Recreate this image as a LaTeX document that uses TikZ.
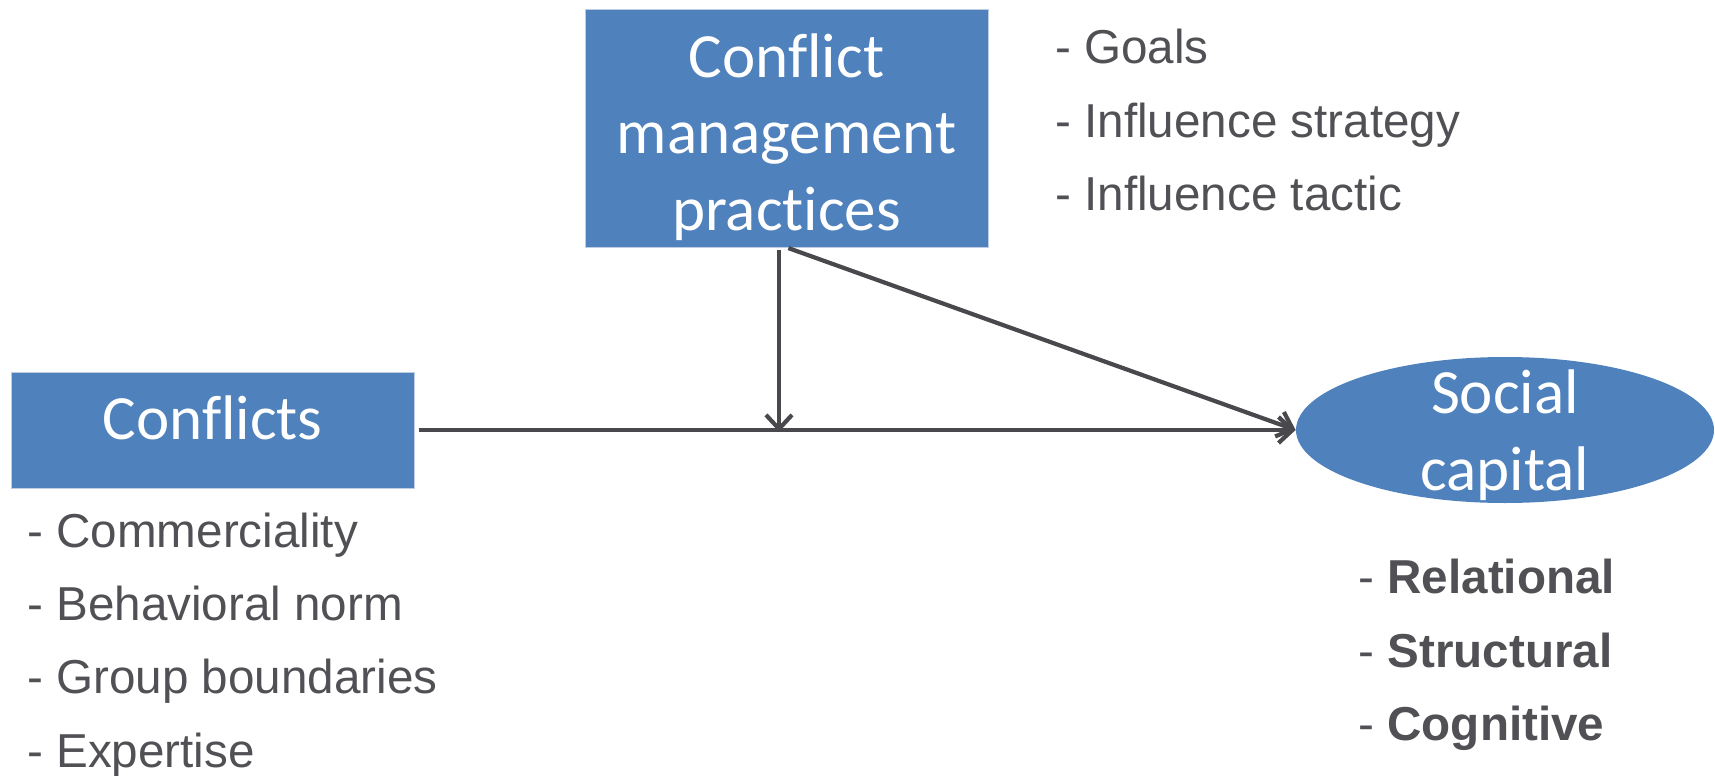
\documentclass[tikz,border=0pt]{standalone}
\usepackage{fontspec}
\setmainfont{Liberation Sans}
\newfontfamily\boxfont[RawFeature={-liga;-clig;-dlig;-calt}]{Carlito}
\usetikzlibrary{arrows.meta,shapes.geometric}
\definecolor{boxblue}{RGB}{79,129,189}
\definecolor{boxedge}{RGB}{190,205,225}
\definecolor{txtgray}{RGB}{80,80,85}
\definecolor{linegray}{RGB}{72,72,77}
\begin{document}
\begin{tikzpicture}[x=0.5pt,y=-0.5pt,
  bluebox/.style={rectangle,fill=boxblue,draw=boxedge,line width=0.4pt,inner sep=0pt},
  blueoval/.style={ellipse,fill=boxblue,draw=none,inner sep=0pt},
  boxtext/.style={anchor=base,inner sep=0pt,text=white,font=\boxfont\fontsize{31.5}{37}\selectfont},
  listtext/.style={anchor=base west,inner sep=0pt,text=txtgray,font=\fontsize{23.8}{28}\selectfont},
  conn/.style={draw=linegray,line width=2.1pt,-{Straight Barb[length=7pt,width=13pt]}}]
\useasboundingbox (0,0) rectangle (1715,776);

% boxes
\node[bluebox,minimum width=201.5pt,minimum height=119pt] (cmp) at (786.5,128) {};
\node[boxtext] (cmp1) at (786.5,77) {Conflict};
\node[boxtext] (cmp2) at (786.5,153) {management};
\node[boxtext] (cmp3) at (786.5,230) {practices};

\node[bluebox,minimum width=201.5pt,minimum height=58pt] (conf) at (212.5,430) {};
\node[boxtext] (conft) at (212.5,439) {Conflicts};

\node[blueoval,minimum width=209pt,minimum height=73pt] (soc) at (1505,430) {};
\node[boxtext] (soc1) at (1505,413) {Social};
\node[boxtext] (soc2) at (1505,490) {capital};

% lists
\node[listtext] (g1) at (1055,63) {- Goals};
\node[listtext] (g2) at (1055,137) {- Influence strategy};
\node[listtext] (g3) at (1055,210) {- Influence tactic};

\node[listtext] (c1) at (27,547) {- Commerciality};
\node[listtext] (c2) at (27,620) {- Behavioral norm};
\node[listtext] (c3) at (27,693) {- Group boundaries};
\node[listtext] (c4) at (27,767) {- Expertise};

\node[listtext] (s1) at (1358,593) {- \textbf{Relational}};
\node[listtext] (s2) at (1358,667) {- \textbf{Structural}};
\node[listtext] (s3) at (1358,740) {- \textbf{Cognitive}};

% connectors
\coordinate (junction) at (779,432);
\draw[conn,shorten <=2.5pt] (conf.east) -- (soc.west);
\draw[conn,shorten <=1.5pt] (cmp.south -| junction) -- (junction);
\draw[conn,shorten <=1pt] (cmp.south) -- (soc.west);
\end{tikzpicture}
\end{document}
